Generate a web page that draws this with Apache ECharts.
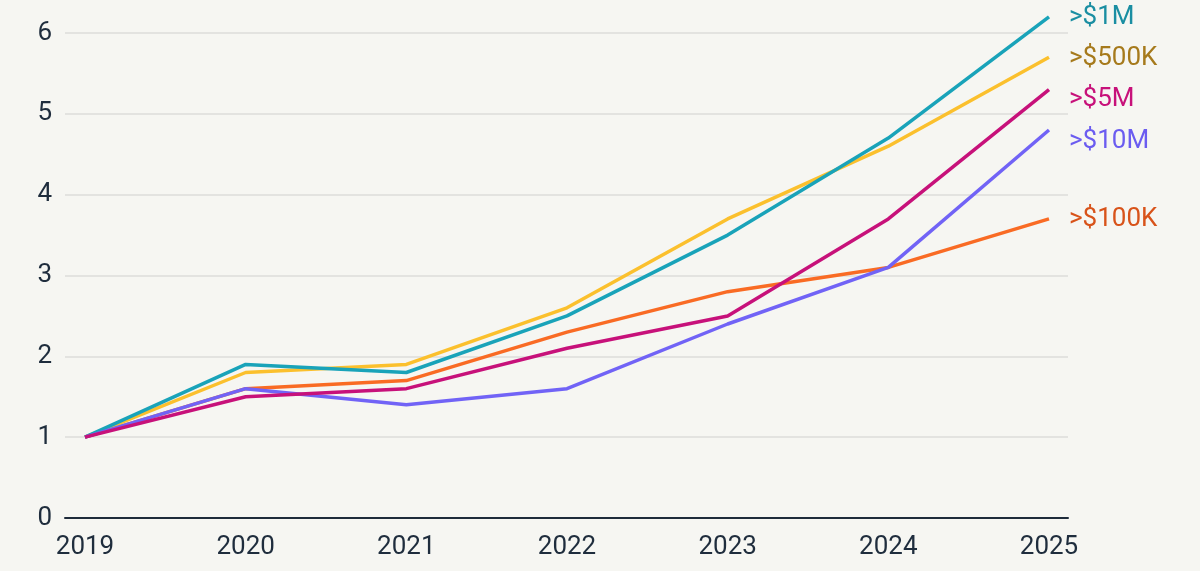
<!DOCTYPE html>
<html>
<head>
<meta charset="utf-8">
<script src="https://cdn.jsdelivr.net/npm/echarts@6/dist/echarts.min.js"></script>
<style>
html,body{margin:0;padding:0;background:#f6f6f2;}
#chart{width:1200px;height:571px;}
</style>
</head>
<body>
<div id="chart"></div>
<script>
const years = ['2019','2020','2021','2022','2023','2024','2025'];
const yTicks = [0,1,2,3,4,5,6];
const s100K = [1, 1.6, 1.7, 2.3, 2.8, 3.1, 3.7];
const s500K = [1, 1.8, 1.9, 2.6, 3.7, 4.6, 5.7];
const s1M   = [1, 1.9, 1.8, 2.5, 3.5, 4.7, 6.2];
const s10M  = [1, 1.6, 1.4, 1.6, 2.4, 3.1, 4.8];
const s5M   = [1, 1.5, 1.6, 2.1, 2.5, 3.7, 5.3];
const names = ['>$100K','>$500K','>$1M','>$10M','>$5M'];

const series = [
  {name: names[0], data: s100K, color:'#f96b24', label:'#d8531a', dy:1},
  {name: names[1], data: s500K, color:'#fbc02d', label:'#a67a1c', dy:1},
  {name: names[2], data: s1M,   color:'#19a3b9', label:'#1a8ea2', dy:1},
  {name: names[3], data: s10M,  color:'#7163f6', label:'#6b5cf0', dy:11},
  {name: names[4], data: s5M,   color:'#c7117a', label:'#c7117a', dy:10}
];

const chart = echarts.init(document.getElementById('chart'));
chart.setOption({
  backgroundColor:'#f6f6f2',
  animation:false,
  grid:{left:65, right:132, top:33, bottom:53, containLabel:false},
  xAxis:{
    type:'value', min:2018.8755, max:2025.1183,
    axisLine:{show:true, lineStyle:{color:'#1e2b3a', width:2}},
    axisTick:{show:false},
    splitLine:{show:false},
    axisLabel:{
      customValues: years.map(Number),
      formatter: v => String(Math.round(v)),
      color:'#1f2d3d', fontSize:26, fontFamily:'Roboto', margin:16
    }
  },
  yAxis:{
    type:'value', min:0, max:6, interval:1,
    axisLine:{show:false}, axisTick:{show:false},
    splitLine:{show:true, lineStyle:{color:'#dcdcda', width:1.5}},
    axisLabel:{
      customValues: yTicks,
      color:'#1f2d3d', fontSize:26, fontFamily:'Roboto', margin:13,
      padding:[3,0,0,0]
    }
  },
  series: series.map(s => ({
    type:'line', name:s.name,
    data: years.map((y,i) => [Number(y), s.data[i]]),
    showSymbol:false, symbol:'none', clip:false,
    lineStyle:{color:s.color, width:3.5},
    itemStyle:{color:s.color},
    endLabel:{
      show:true, formatter:s.name, color:s.label,
      fontSize:26, fontFamily:'Roboto', distance:20, offset:[0, s.dy]
    }
  }))
});
</script>
</body>
</html>
